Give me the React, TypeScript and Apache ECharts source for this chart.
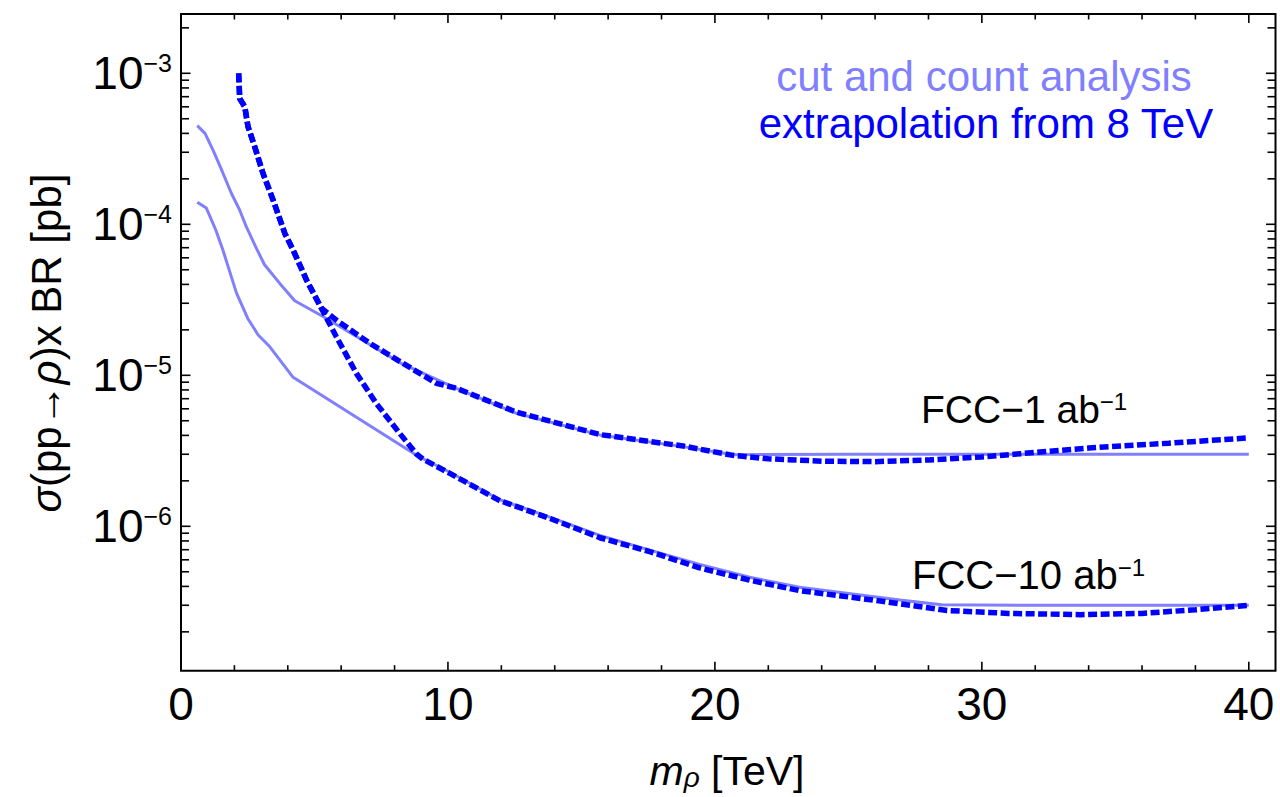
import React, { useEffect, useRef } from "react";
import * as echarts from "echarts";

// ---------- axis ranges ----------
const X_MIN = 0;
const X_MAX = 41;
const Y_MIN = 1.106e-7;
const Y_MAX = 2.47e-3;

// ---------- tick positions ----------
const xMajorTicks = [0, 10, 20, 30, 40];
const xMinorTicks = [2, 4, 6, 8, 12, 14, 16, 18, 22, 24, 26, 28, 32, 34, 36, 38];
const yMajorTicks = [1e-6, 1e-5, 1e-4, 1e-3];
const yMinorMantissas = [2, 3, 4, 5, 6, 7, 8, 9];
const yMinorDecades = [1e-7, 1e-6, 1e-5, 1e-4, 1e-3];

// ---------- data: cut and count analysis (solid) ----------
const cutFCC1_x = [0.61, 0.9, 1.2, 1.55, 1.89, 2.2, 2.45, 2.83, 3.13, 3.7, 4.26, 5.32, 7.07, 8.25, 10.32, 12.57, 15.69, 18.81, 20.68, 25, 30, 35, 40];
const cutFCC1_y = [4.5e-4, 4.0e-4, 3.1e-4, 2.23e-4, 1.6e-4, 1.24e-4, 9.6e-5, 6.9e-5, 5.4e-5, 4.06e-5, 3.12e-5, 2.45e-5, 1.6e-5, 1.2e-5, 8.2e-6, 5.6e-6, 4.03e-6, 3.37e-6, 2.98e-6, 3.0e-6, 3.0e-6, 3.0e-6, 3.0e-6];

const cutFCC10_x = [0.61, 0.95, 1.3, 1.57, 2.08, 2.5, 2.89, 3.32, 3.8, 4.2, 8.9, 10.07, 11.94, 13.81, 15.69, 17.56, 19.43, 21.3, 23.17, 26.93, 28.5, 32, 36, 40];
const cutFCC10_y = [1.4e-4, 1.28e-4, 9.2e-5, 6.75e-5, 3.5e-5, 2.38e-5, 1.85e-5, 1.55e-5, 1.2e-5, 9.7e-6, 2.9e-6, 2.28e-6, 1.5e-6, 1.15e-6, 8.7e-7, 6.95e-7, 5.6e-7, 4.6e-7, 3.95e-7, 3.25e-7, 3.02e-7, 3.0e-7, 3.0e-7, 3.0e-7];

// ---------- data: extrapolation from 8 TeV (dashed) ----------
const extFCC1_x = [2.16, 2.2, 2.39, 2.51, 2.76, 3.07, 3.45, 3.89, 4.2, 4.7, 5.26, 5.82, 7.07, 8.25, 9.57, 10.32, 12.57, 15.69, 18.81, 20.68, 22, 24, 26, 28, 30, 31.2, 34, 37, 40];
const extFCC1_y = [1.0e-3, 6.8e-4, 6.0e-4, 4.43e-4, 3.27e-4, 2.18e-4, 1.45e-4, 8.7e-5, 6.76e-5, 4.28e-5, 2.78e-5, 2.32e-5, 1.63e-5, 1.22e-5, 8.85e-6, 8.2e-6, 5.7e-6, 4.05e-6, 3.4e-6, 2.95e-6, 2.8e-6, 2.7e-6, 2.68e-6, 2.75e-6, 2.88e-6, 3.0e-6, 3.3e-6, 3.55e-6, 3.85e-6];

const extFCC10_x = [2.16, 2.2, 2.39, 2.51, 2.76, 3.07, 3.45, 3.89, 4.2, 4.7, 5.26, 5.82, 6.57, 7.32, 8.19, 8.82, 9.07, 10.07, 11.94, 13.81, 15.69, 17.56, 19.43, 21.3, 23.17, 26.2, 28.7, 31, 33.7, 36, 38, 40];
const extFCC10_y = [1.0e-3, 6.8e-4, 6.0e-4, 4.43e-4, 3.27e-4, 2.18e-4, 1.45e-4, 8.7e-5, 6.76e-5, 4.28e-5, 2.78e-5, 1.8e-5, 1.03e-5, 6.5e-6, 4.13e-6, 3.01e-6, 2.78e-6, 2.24e-6, 1.48e-6, 1.13e-6, 8.4e-7, 6.8e-7, 5.3e-7, 4.4e-7, 3.75e-7, 3.2e-7, 2.77e-7, 2.65e-7, 2.6e-7, 2.65e-7, 2.8e-7, 3.0e-7];

// ---------- texts ----------
const legendCut = "cut and count analysis";
const legendExt = "extrapolation from 8 TeV";
const labelFCC1 = "{a|FCC\u22121 ab}{s|\u22121}";
const labelFCC10 = "{a|FCC\u221210 ab}{s|\u22121}";
const yTitle = "{i|\u03c3}{n|(pp\u2192}{i|\u03c1}{n|)x BR [pb]}";
const xTitle = "{i|m}{sub|\u03c1}{n| [TeV]}";

const FONT = "'Liberation Sans', Arial, Helvetica, sans-serif";
const SOLID_COLOR = "#8080ff";
const DASH_COLOR = "#0000ff";

const zip = (xs: number[], ys: number[]) => xs.map((x, i) => [x, ys[i]]);

export default function App() {
  const ref = useRef<HTMLDivElement>(null);

  useEffect(() => {
    if (!ref.current) return;
    const chart = echarts.init(ref.current, undefined, { renderer: "svg" });

    const yMinorTicks: number[] = [];
    yMinorDecades.forEach((d) =>
      yMinorMantissas.forEach((m) => {
        const v = m * d;
        if (v > Y_MIN && v < Y_MAX) yMinorTicks.push(v);
      })
    );

    // tick data: [x, y, kind] kind: 0 x-minor, 1 x-major, 2 y-minor, 3 y-major
    const tickData: number[][] = [];
    xMinorTicks.forEach((v) => tickData.push([v, Y_MIN, 0]));
    xMajorTicks.forEach((v) => tickData.push([v, Y_MIN, 1]));
    yMinorTicks.forEach((v) => tickData.push([X_MIN, v, 2]));
    yMajorTicks.forEach((v) => tickData.push([X_MIN, v, 3]));

    const tickStyle = { stroke: "#000", lineWidth: 1.6 };
    const dashStyle = { color: DASH_COLOR, width: 5.5, type: [9, 3.5], cap: "butt" };

    const option: any = {
      animation: false,
      backgroundColor: "#fff",
      grid: {
        left: 181,
        right: 4.5,
        top: 14,
        bottom: 126.3,
        show: true,
        borderColor: "#000",
        borderWidth: 2,
        backgroundColor: "transparent",
        containLabel: false,
        outerBoundsMode: "none",
      },
      xAxis: {
        type: "value",
        min: X_MIN,
        max: X_MAX,
        interval: 10,
        axisLine: { show: false },
        axisTick: { show: false },
        splitLine: { show: false },
        axisLabel: {
          margin: 10,
          fontSize: 46,
          fontFamily: FONT,
          color: "#000",
          formatter: (v: number) => (Math.abs(v % 10) < 1e-9 ? String(v) : ""),
        },
      },
      yAxis: {
        type: "log",
        logBase: 10,
        min: Y_MIN,
        max: Y_MAX,
        axisLine: { show: false },
        axisTick: { show: false },
        splitLine: { show: false },
        axisLabel: {
          margin: 9,
          color: "#000",
          formatter: (v: number) => {
            const l = Math.log10(v);
            const e = Math.round(l);
            if (Math.abs(l - e) > 1e-6) return "";
            return "{b|10}{s|\u2212" + -e + "}";
          },
          rich: {
            b: { fontSize: 46, lineHeight: 46, fontFamily: FONT, color: "#000" },
            s: { fontSize: 25, lineHeight: 20, verticalAlign: "top", fontFamily: FONT, color: "#000" },
          },
        },
      },
      series: [
        {
          type: "line",
          name: "cut FCC-1",
          data: zip(cutFCC1_x, cutFCC1_y),
          showSymbol: false,
          symbol: "none",
          lineStyle: { color: SOLID_COLOR, width: 3 },
          z: 2,
        },
        {
          type: "line",
          name: "cut FCC-10",
          data: zip(cutFCC10_x, cutFCC10_y),
          showSymbol: false,
          symbol: "none",
          lineStyle: { color: SOLID_COLOR, width: 3 },
          z: 2,
        },
        {
          type: "line",
          name: "ext FCC-1",
          data: zip(extFCC1_x, extFCC1_y),
          showSymbol: false,
          symbol: "none",
          lineStyle: dashStyle,
          z: 3,
        },
        {
          type: "line",
          name: "ext FCC-10",
          data: zip(extFCC10_x, extFCC10_y),
          showSymbol: false,
          symbol: "none",
          lineStyle: dashStyle,
          z: 3,
        },
        {
          type: "custom",
          name: "ticks",
          data: tickData,
          encode: { x: 0, y: 1 },
          silent: true,
          z: 5,
          renderItem: (_params: any, api: any) => {
            const kind = api.value(2);
            const v = kind < 2 ? api.value(0) : api.value(1);
            if (kind < 2) {
              const len = kind === 1 ? 9 : 5.5;
              const b = api.coord([v, Y_MIN]);
              const t = api.coord([v, Y_MAX]);
              return {
                type: "group",
                children: [
                  { type: "line", shape: { x1: b[0], y1: b[1], x2: b[0], y2: b[1] - len }, style: tickStyle },
                  { type: "line", shape: { x1: t[0], y1: t[1], x2: t[0], y2: t[1] + len }, style: tickStyle },
                ],
              };
            }
            const len = kind === 3 ? 9.5 : 8;
            const l = api.coord([X_MIN, v]);
            const r = api.coord([X_MAX, v]);
            return {
              type: "group",
              children: [
                { type: "line", shape: { x1: l[0], y1: l[1], x2: l[0] + len, y2: l[1] }, style: tickStyle },
                { type: "line", shape: { x1: r[0], y1: r[1], x2: r[0] - len, y2: r[1] }, style: tickStyle },
              ],
            };
          },
        },
      ],
      graphic: [
        {
          type: "text",
          x: 984,
          y: 76,
          style: {
            text: legendCut,
            fill: SOLID_COLOR,
            fontSize: 42,
            fontFamily: FONT,
            align: "center",
            textAlign: "center",
            verticalAlign: "middle",
            textVerticalAlign: "middle",
          },
        },
        {
          type: "text",
          x: 986,
          y: 123,
          style: {
            text: legendExt,
            fill: DASH_COLOR,
            fontSize: 42,
            fontFamily: FONT,
            align: "center",
            textAlign: "center",
            verticalAlign: "middle",
            textVerticalAlign: "middle",
          },
        },
        {
          type: "text",
          x: 921,
          y: 409,
          style: {
            text: labelFCC1,
            align: "left",
            textAlign: "left",
            verticalAlign: "middle",
            textVerticalAlign: "middle",
            rich: {
              a: { fontSize: 39, lineHeight: 39, fontFamily: FONT, fill: "#000", color: "#000" },
              s: { fontSize: 24, lineHeight: 14, verticalAlign: "top", fontFamily: FONT, fill: "#000", color: "#000" },
            },
          },
        },
        {
          type: "text",
          x: 912,
          y: 575,
          style: {
            text: labelFCC10,
            align: "left",
            textAlign: "left",
            verticalAlign: "middle",
            textVerticalAlign: "middle",
            rich: {
              a: { fontSize: 40, lineHeight: 40, fontFamily: FONT, fill: "#000", color: "#000" },
              s: { fontSize: 24, lineHeight: 14, verticalAlign: "top", fontFamily: FONT, fill: "#000", color: "#000" },
            },
          },
        },
        {
          type: "text",
          x: 727,
          y: 771,
          style: {
            text: xTitle,
            align: "center",
            textAlign: "center",
            verticalAlign: "middle",
            textVerticalAlign: "middle",
            rich: {
              i: { fontSize: 41, lineHeight: 41, fontStyle: "italic", fontFamily: FONT, fill: "#000", color: "#000" },
              sub: { fontSize: 28, lineHeight: 22, verticalAlign: "bottom", fontStyle: "italic", fontFamily: FONT, fill: "#000", color: "#000" },
              n: { fontSize: 41, lineHeight: 41, fontFamily: FONT, fill: "#000", color: "#000" },
            },
          },
        },
        {
          type: "text",
          x: 46,
          y: 343,
          rotation: Math.PI / 2,
          style: {
            text: yTitle,
            align: "center",
            textAlign: "center",
            verticalAlign: "middle",
            textVerticalAlign: "middle",
            rich: {
              i: { fontSize: 42, lineHeight: 42, fontStyle: "italic", fontFamily: FONT, fill: "#000", color: "#000" },
              n: { fontSize: 42, lineHeight: 42, fontFamily: FONT, fill: "#000", color: "#000" },
            },
          },
        },
      ],
    };

    chart.setOption(option);
    return () => chart.dispose();
  }, []);

  return (
    <div
      ref={ref}
      style={{ position: "fixed", left: 0, top: 0, width: 1280, height: 797, background: "#fff" }}
    />
  );
}
